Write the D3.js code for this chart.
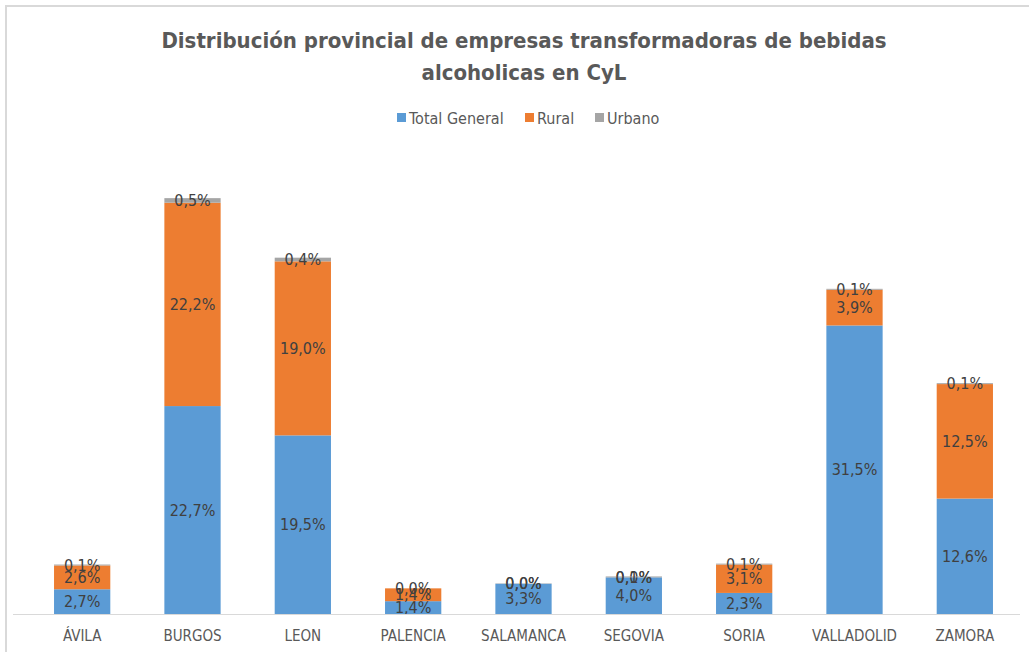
<!DOCTYPE html>
<html>
<head>
<meta charset="utf-8">
<script src="https://cdn.jsdelivr.net/npm/d3@7"></script>
<style>
  body { margin: 0; background: #fff; }
  svg text { font-family: "Liberation Sans Narrow", "DejaVu Sans Condensed", sans-serif; }
</style>
</head>
<body>
<svg id="chart" width="1029" height="652"></svg>
<script>
// data
const provincias = ["ÁVILA", "BURGOS", "LEON", "PALENCIA", "SALAMANCA", "SEGOVIA", "SORIA", "VALLADOLID", "ZAMORA"];
const totalGeneral = [2.7, 22.7, 19.5, 1.4, 3.3, 4.0, 2.3, 31.5, 12.6];
const rural = [2.6, 22.2, 19.0, 1.4, 0.0, 0.0, 3.1, 3.9, 12.5];
const urbano = [0.1, 0.5, 0.4, 0.0, 0.04, 0.1, 0.1, 0.1, 0.1];
const seriesNames = ["Total General", "Rural", "Urbano"];
const colors = ["#5b9bd5", "#ed7d31", "#a5a5a5"];

const svg = d3.select("#chart");

// frame (only top + left visible in the crop)
svg.append("path")
    .attr("d", "M6,652 V6 H1029")
    .attr("fill", "none")
    .attr("stroke", "#d9d9d9")
    .attr("stroke-width", 2);

// title
svg.append("text")
    .attr("x", 524).attr("y", 48)
    .attr("text-anchor", "middle")
    .attr("font-size", 22).attr("font-weight", "bold")
    .attr("fill", "#595959")
    .text("Distribución provincial de empresas transformadoras de bebidas");
svg.append("text")
    .attr("x", 524).attr("y", 80)
    .attr("text-anchor", "middle")
    .attr("font-size", 22).attr("font-weight", "bold")
    .attr("fill", "#595959")
    .text("alcoholicas en CyL");

// stack the three series
let table = provincias.map(function (p, i) {
    return { prov: p, "Total General": totalGeneral[i], "Rural": rural[i], "Urbano": urbano[i] };
});
let stacked = d3.stack().keys(seriesNames)(table);

let x = d3.scaleBand()
    .domain(provincias)
    .range([27, 1020])
    .paddingInner(0.49)
    .paddingOuter(0.245);

let y = d3.scaleLinear()
    .domain([0, 35])
    .range([614, 293.4]);

let color = d3.scaleOrdinal().domain(seriesNames).range(colors);

// bars
let layers = svg.append("g").selectAll("g")
    .data(stacked)
    .enter().append("g")
    .attr("fill", function (d) { return color(d.key); });

layers.selectAll("rect")
    .data(function (d) { return d; })
    .enter().append("rect")
    .attr("x", function (d) { return x(d.data.prov); })
    .attr("width", x.bandwidth())
    .attr("y", function (d) { return y(d[1]); })
    .attr("height", function (d) { return y(d[0]) - y(d[1]); });

// baseline
svg.append("line")
    .attr("x1", 13).attr("x2", 1020)
    .attr("y1", 614.5).attr("y2", 614.5)
    .attr("stroke", "#d9d9d9").attr("stroke-width", 1);

// x axis labels
let xAxis = d3.axisBottom(x).tickSize(0).tickPadding(16);
let gx = svg.append("g")
    .attr("transform", "translate(0,614)")
    .call(xAxis);
gx.select(".domain").remove();
gx.selectAll("text")
    .attr("font-size", 15)
    .attr("fill", "#595959")
    .style("font-family", "\"Liberation Sans Narrow\", \"DejaVu Sans Condensed\", sans-serif");

// data labels, centred in each segment
let fmt = function (v) { return v.toFixed(1).replace(".", ",") + "%"; };
layers.selectAll("text")
    .data(function (d) { return d; })
    .enter().append("text")
    .attr("x", function (d) { return x(d.data.prov) + x.bandwidth() / 2; })
    .attr("y", function (d) { return (y(d[0]) + y(d[1])) / 2; })
    .attr("dy", "0.35em")
    .attr("text-anchor", "middle")
    .attr("font-size", 16)
    .attr("fill", "#404040")
    .text(function (d) { return fmt(d[1] - d[0]); });

// legend
let legendX = [397, 525, 595];
let legend = svg.append("g").selectAll("g")
    .data(seriesNames)
    .enter().append("g")
    .attr("transform", function (d, i) { return "translate(" + legendX[i] + ",118)"; });
legend.append("rect")
    .attr("x", 0).attr("y", -5)
    .attr("width", 9).attr("height", 9)
    .attr("fill", function (d) { return color(d); });
legend.append("text")
    .attr("x", 12).attr("y", 0)
    .attr("dy", "0.35em")
    .attr("font-size", 16)
    .attr("fill", "#595959")
    .text(function (d) { return d; });
</script>
</body>
</html>
